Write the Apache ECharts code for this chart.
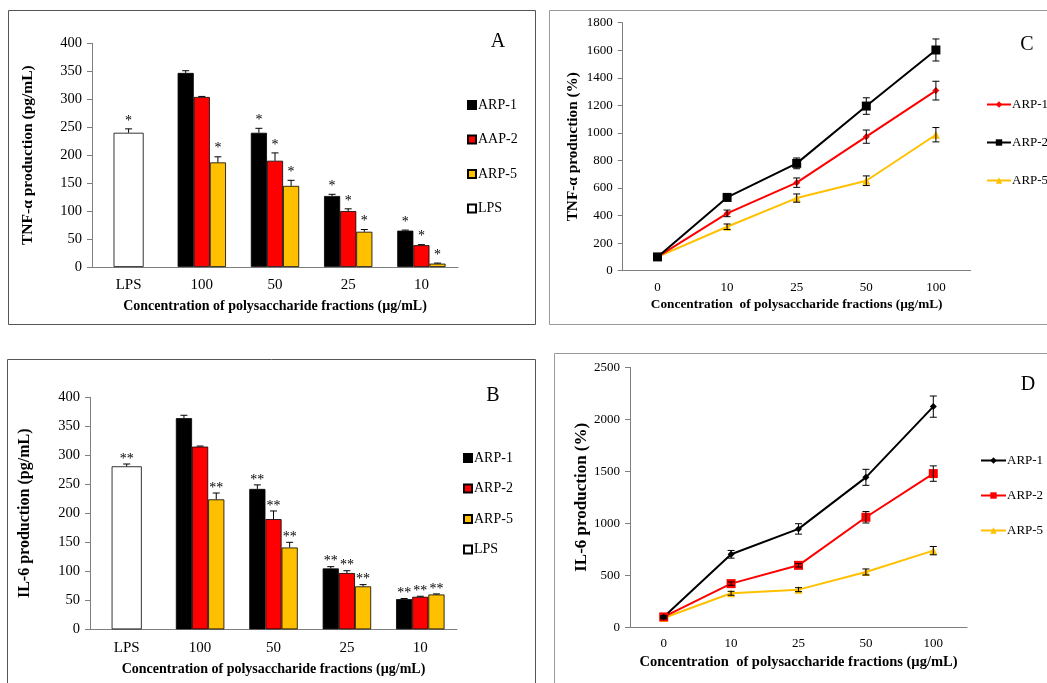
<!DOCTYPE html>
<html><head><meta charset="utf-8">
<script src="https://cdn.jsdelivr.net/npm/echarts@6/dist/echarts.min.js"></script>
<style>html,body{margin:0;padding:0;background:#fff}#c{width:1047px;height:683px}</style>
</head><body><div id="c"></div>
<script>
// ---------- data ----------
const barCats = ['LPS', '100', '50', '25', '10'];
const lineCats = ['0', '10', '25', '50', '100'];

// Panel A: TNF-α production (pg/mL)
const aLPS = [240, null, null, null, null];
const aARP1 = [null, 347, 240, 127, 65];
const aAAP2 = [null, 304, 190, 100, 39];
const aARP5 = [null, 187, 145, 63, 6];
const aErrLPS = [7, null, null, null, null];
const aErrARP1 = [null, 4, 8, 3, 1];
const aErrAAP2 = [null, 1, 14, 4, 1];
const aErrARP5 = [null, 10, 10, 4, 1];
const aStarLPS = ['*', '', '', '', ''];
const aStarARP1 = ['', '', '*', '*', '*'];
const aStarAAP2 = ['', '', '*', '*', '*'];
const aStarARP5 = ['', '*', '*', '*', '*'];

// Panel B: IL-6 production (pg/mL)
const bLPS = [281, null, null, null, null];
const bARP1 = [null, 364, 242, 105, 52];
const bARP2 = [null, 315, 190, 97, 56];
const bARP5 = [null, 224, 141, 74, 60];
const bErrLPS = [4, null, null, null, null];
const bErrARP1 = [null, 5, 7, 3, 1];
const bErrARP2 = [null, 1, 14, 4, 1];
const bErrARP5 = [null, 11, 9, 3, 1];
const bStarLPS = ['**', '', '', '', ''];
const bStarARP1 = ['', '', '**', '**', '**'];
const bStarARP2 = ['', '', '**', '**', '**'];
const bStarARP5 = ['', '**', '**', '**', '**'];

// Panel C: TNF-α production (%)
const cARP1 = [100, 416, 639, 973, 1307];
const cARP2 = [100, 532, 779, 1195, 1602];
const cARP5 = [100, 319, 527, 653, 987];
const cErrARP1 = [10, 24, 34, 48, 68];
const cErrARP2 = [10, 25, 39, 60, 80];
const cErrARP5 = [10, 20, 30, 35, 52];

// Panel D: IL-6 production (%)
const dARP1 = [100, 702, 946, 1442, 2122];
const dARP2 = [100, 420, 596, 1058, 1478];
const dARP5 = [90, 327, 362, 532, 737];
const dErrARP1 = [10, 37, 50, 77, 102];
const dErrARP2 = [10, 16, 16, 55, 74];
const dErrARP5 = [10, 19, 19, 29, 40];

// ---------- styles ----------
const SERIF = "'Liberation Serif', 'Times New Roman', serif";
const BLACK = '#000000', RED = '#ff0000', YEL = '#ffc000';
const AXC = '#7f7f7f';
const BARW = 0.22;   // fraction of category band per bar

function errData(vals, errs, stars) {
  const out = [];
  vals.forEach((v, i) => { if (v != null) out.push([i, v, errs[i], stars ? stars[i] : '']); });
  return out;
}

function barErrRender(slot, nSlots, frac, starDy) {
  return function (params, api) {
    const v = api.value(1), e = api.value(2);
    const star = api.value(3);
    const band = api.size([1, 0])[0];
    const off = (slot - (nSlots - 1) / 2) * band * frac;
    const p0 = api.coord([api.value(0), v]);
    const p1 = api.coord([api.value(0), v + e]);
    const x = p0[0] + off;
    const ls = { stroke: '#000', lineWidth: 1 };
    const ch = [
      { type: 'line', shape: { x1: x, y1: p0[1], x2: x, y2: p1[1] }, style: ls },
      { type: 'line', shape: { x1: x - 3.5, y1: p1[1], x2: x + 3.5, y2: p1[1] }, style: ls }
    ];
    if (star) ch.push({ type: 'text', style: { text: star, x: x, y: p1[1] + starDy, align: 'center', verticalAlign: 'bottom', fill: '#000', font: '14px ' + SERIF } });
    return { type: 'group', children: ch };
  };
}

function lineErrRender(params, api) {
  const v = api.value(1), e = api.value(2);
  const lo = api.coord([api.value(0), v - e]);
  const hi = api.coord([api.value(0), v + e]);
  const x = lo[0];
  const ls = { stroke: '#000', lineWidth: 1 };
  return { type: 'group', children: [
    { type: 'line', shape: { x1: x, y1: lo[1], x2: x, y2: hi[1] }, style: ls },
    { type: 'line', shape: { x1: x - 3.5, y1: lo[1], x2: x + 3.5, y2: lo[1] }, style: ls },
    { type: 'line', shape: { x1: x - 3.5, y1: hi[1], x2: x + 3.5, y2: hi[1] }, style: ls }
  ] };
}

function valueAxis(grid, max, interval, name, gap, labelSize, nameSize) {
  return {
    gridIndex: grid, type: 'value', min: 0, max: max, interval: interval,
    axisLine: { show: true, lineStyle: { color: AXC } },
    axisTick: { show: true, length: 5, lineStyle: { color: AXC } },
    splitLine: { show: false },
    axisLabel: { color: '#000', fontFamily: SERIF, fontSize: labelSize, margin: 10, formatter: v => String(v) },
    name: name, nameLocation: 'middle', nameGap: gap,
    nameTextStyle: { color: '#000', fontFamily: SERIF, fontWeight: 'bold', fontSize: nameSize }
  };
}
function catAxis(grid, cats, name, gap, labelSize, nameSize, margin) {
  return {
    gridIndex: grid, type: 'category', data: cats,
    axisLine: { show: true, lineStyle: { color: AXC } },
    axisTick: { show: false },
    axisLabel: { color: '#000', fontFamily: SERIF, fontSize: labelSize, margin: margin },
    name: name, nameLocation: 'middle', nameGap: gap,
    nameTextStyle: { color: '#000', fontFamily: SERIF, fontWeight: 'bold', fontSize: nameSize }
  };
}
function hiddenCat(grid, cats) {
  return { gridIndex: grid, type: 'category', data: cats, show: false };
}

const XT = 'Concentration of polysaccharide fractions (µg/mL)';
const XT2 = 'Concentration  of polysaccharide fractions (µg/mL)';

function barSeries(name, data, color, xi, yi, width) {
  return { name: name, type: 'bar', xAxisIndex: xi, yAxisIndex: yi, data: data,
    barWidth: width, barGap: '0%',
    itemStyle: { color: color, borderColor: '#000', borderWidth: 0.8 } };
}
function errSeries(vals, errs, stars, xi, yi, slot, n, frac, starDy) {
  return { type: 'custom', xAxisIndex: xi, yAxisIndex: yi, data: errData(vals, errs, stars),
    encode: { x: 0, y: 1 }, renderItem: barErrRender(slot, n, frac, starDy), z: 5, silent: true };
}
function lineSeries(name, data, color, symbol, size, xi, yi) {
  return { name: name, type: 'line', xAxisIndex: xi, yAxisIndex: yi, data: data,
    symbol: symbol, symbolSize: size, lineStyle: { color: color, width: 2 },
    itemStyle: { color: color }, z: 3 };
}
function lineErr(vals, errs, xi, yi) {
  return { type: 'custom', xAxisIndex: xi, yAxisIndex: yi, data: errData(vals, errs),
    encode: { x: 0, y: 1 }, renderItem: lineErrRender, z: 6, silent: true };
}

const fmt = n => n.split(':')[1];

const option = {
  backgroundColor: '#fff',
  animation: false,
  grid: [
    { left: 92, top: 43.3, width: 366, height: 223.7 },   // A
    { left: 622.7, top: 22.7, width: 348, height: 248 },  // C
    { left: 90, top: 397.3, width: 367, height: 232 },    // B
    { left: 630, top: 367.3, width: 337, height: 260 }    // D
  ],
  xAxis: [
    catAxis(0, barCats, XT, 32, 15, 14, 11),
    hiddenCat(0, barCats),
    catAxis(1, lineCats, XT2, 27, 13, 13.3, 10),
    catAxis(2, barCats, XT, 33, 15, 14, 11),
    hiddenCat(2, barCats),
    catAxis(3, lineCats, XT2, 27, 13, 14.5, 10)
  ],
  yAxis: [
    valueAxis(0, 400, 50, 'TNF-α production (pg/mL)', 56, 14.5, 15.5),
    valueAxis(1, 1800, 200, 'TNF-α production (%)', 42, 13, 15.3),
    valueAxis(2, 400, 50, 'IL-6 production (pg/mL)', 57, 14.5, 16),
    valueAxis(3, 2500, 500, 'IL-6 production (%)', 39, 13, 17)
  ],
  legend: [
    { data: ['A:ARP-1', 'A:AAP-2', 'A:ARP-5', 'A:LPS'], orient: 'vertical', left: 467, top: 98, padding: 0,
      icon: 'rect', itemWidth: 8, itemHeight: 8, itemGap: 20.5, formatter: fmt,
      textStyle: { fontFamily: SERIF, fontSize: 14, color: '#000', padding: [0, 0, 0, -3] } },
    { data: ['B:ARP-1', 'B:ARP-2', 'B:ARP-5', 'B:LPS'], orient: 'vertical', left: 463, top: 451, padding: 0,
      icon: 'rect', itemWidth: 8, itemHeight: 8, itemGap: 16.5, formatter: fmt,
      textStyle: { fontFamily: SERIF, fontSize: 14, color: '#000', padding: [0, 0, 0, -3] } },
    { data: ['C:ARP-1', 'C:ARP-2', 'C:ARP-5'], orient: 'vertical', left: 986, top: 98, padding: 0,
      itemWidth: 24, itemHeight: 8, itemGap: 25, formatter: fmt,
      textStyle: { fontFamily: SERIF, fontSize: 13, color: '#000', padding: [0, 0, 0, -4] } },
    { data: ['D:ARP-1', 'D:ARP-2', 'D:ARP-5'], orient: 'vertical', left: 980, top: 454, padding: 0,
      itemWidth: 25, itemHeight: 8, itemGap: 22, formatter: fmt,
      textStyle: { fontFamily: SERIF, fontSize: 13, color: '#000', padding: [0, 0, 0, -4] } }
  ],
  series: [
    // A
    barSeries('A:ARP-1', aARP1, BLACK, 0, 0, (BARW * 100) + '%'),
    barSeries('A:AAP-2', aAAP2, RED, 0, 0, (BARW * 100) + '%'),
    barSeries('A:ARP-5', aARP5, YEL, 0, 0, (BARW * 100) + '%'),
    barSeries('A:LPS', aLPS, '#ffffff', 1, 0, '41%'),
    errSeries(aARP1, aErrARP1, aStarARP1, 0, 0, 0, 3, BARW, -1),
    errSeries(aAAP2, aErrAAP2, aStarAAP2, 0, 0, 1, 3, BARW, -1),
    errSeries(aARP5, aErrARP5, aStarARP5, 0, 0, 2, 3, BARW, -1),
    errSeries(aLPS, aErrLPS, aStarLPS, 1, 0, 0, 1, 0, -1),
    // B
    barSeries('B:ARP-1', bARP1, BLACK, 3, 2, (BARW * 100) + '%'),
    barSeries('B:ARP-2', bARP2, RED, 3, 2, (BARW * 100) + '%'),
    barSeries('B:ARP-5', bARP5, YEL, 3, 2, (BARW * 100) + '%'),
    barSeries('B:LPS', bLPS, '#ffffff', 4, 2, '41%'),
    errSeries(bARP1, bErrARP1, bStarARP1, 3, 2, 0, 3, BARW, 2),
    errSeries(bARP2, bErrARP2, bStarARP2, 3, 2, 1, 3, BARW, 2),
    errSeries(bARP5, bErrARP5, bStarARP5, 3, 2, 2, 3, BARW, 2),
    errSeries(bLPS, bErrLPS, bStarLPS, 4, 2, 0, 1, 0, 2),
    // C
    lineSeries('C:ARP-5', cARP5, YEL, 'triangle', 8, 2, 1),
    lineSeries('C:ARP-1', cARP1, RED, 'diamond', 7, 2, 1),
    lineSeries('C:ARP-2', cARP2, BLACK, 'rect', 9, 2, 1),
    lineErr(cARP1, cErrARP1, 2, 1),
    lineErr(cARP2, cErrARP2, 2, 1),
    lineErr(cARP5, cErrARP5, 2, 1),
    // D
    lineSeries('D:ARP-5', dARP5, YEL, 'triangle', 8, 5, 3),
    lineSeries('D:ARP-2', dARP2, RED, 'rect', 9, 5, 3),
    lineSeries('D:ARP-1', dARP1, BLACK, 'diamond', 7, 5, 3),
    lineErr(dARP1, dErrARP1, 5, 3),
    lineErr(dARP2, dErrARP2, 5, 3),
    lineErr(dARP5, dErrARP5, 5, 3)
  ],
  graphic: [
    { type: 'rect', shape: { x: 8.5, y: 10.5, width: 527, height: 314 }, style: { fill: 'none', stroke: '#555', lineWidth: 1 }, silent: true },
    { type: 'rect', shape: { x: 549.5, y: 10.5, width: 510, height: 314 }, style: { fill: 'none', stroke: '#999', lineWidth: 1 }, silent: true },
    { type: 'rect', shape: { x: 7.5, y: 359.5, width: 528, height: 340 }, style: { fill: 'none', stroke: '#555', lineWidth: 1 }, silent: true },
    { type: 'rect', shape: { x: 554.5, y: 353.5, width: 510, height: 340 }, style: { fill: 'none', stroke: '#999', lineWidth: 1 }, silent: true },
    { type: 'text', x: 498, y: 42, style: { text: 'A', font: '20px ' + SERIF, fill: '#000', align: 'center', verticalAlign: 'middle' } },
    { type: 'text', x: 1027, y: 45, style: { text: 'C', font: '20px ' + SERIF, fill: '#000', align: 'center', verticalAlign: 'middle' } },
    { type: 'text', x: 493, y: 396, style: { text: 'B', font: '20px ' + SERIF, fill: '#000', align: 'center', verticalAlign: 'middle' } },
    { type: 'text', x: 1028, y: 385, style: { text: 'D', font: '20px ' + SERIF, fill: '#000', align: 'center', verticalAlign: 'middle' } }
  ]
};

const chart = echarts.init(document.getElementById('c'), null, { renderer: 'canvas' });
chart.setOption(option);
</script>
</body></html>
